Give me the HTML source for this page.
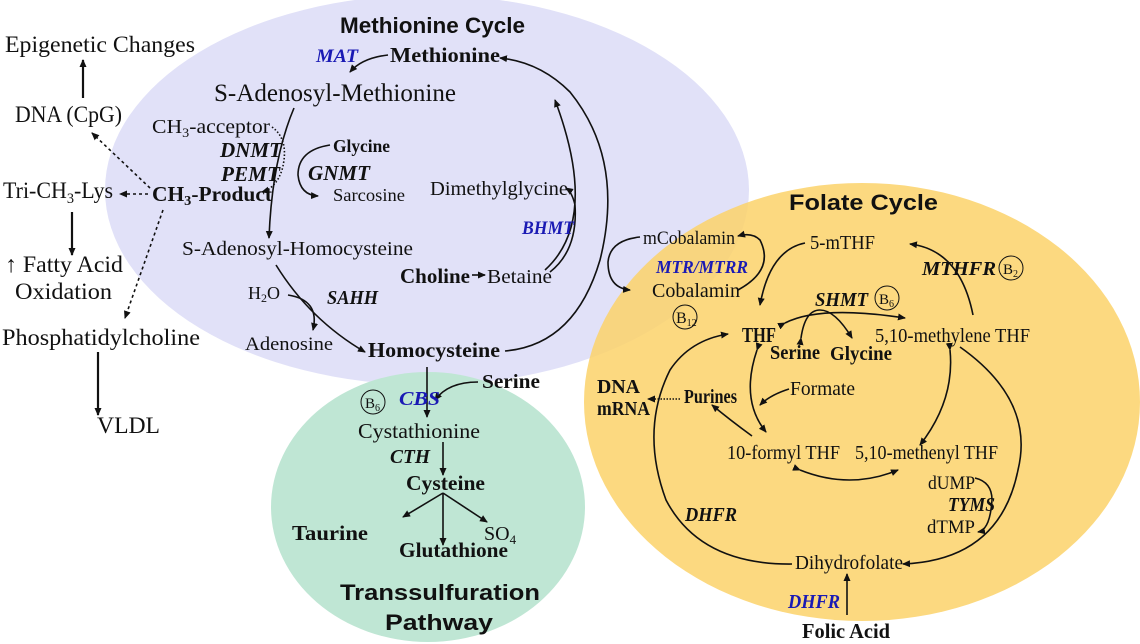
<!DOCTYPE html>
<html><head><meta charset="utf-8"><style>
html,body{margin:0;padding:0;background:#fff}
svg{display:block}
text{font-family:"Liberation Serif",serif;fill:#111}
.b{font-weight:bold}
.i{font-style:italic;font-weight:bold}
.bl{fill:#1a1ab4}
.h{font-family:"Liberation Sans",sans-serif;font-weight:bold;font-size:22px}
</style></head><body>
<svg width="1140" height="644" viewBox="0 0 1140 644" xmlns="http://www.w3.org/2000/svg">
<defs>
<marker id="a" markerWidth="8" markerHeight="8" refX="7" refY="4" orient="auto" markerUnits="userSpaceOnUse"><path d="M0,0.5 L8,4 L0,7.5 Z" fill="#111"/></marker>
</defs>
<ellipse cx="427" cy="190" rx="322" ry="195" fill="#e1e1f8"/>
<ellipse cx="428" cy="507" rx="157" ry="135" fill="#bfe6d4"/>
<ellipse cx="862" cy="402" rx="278" ry="219" fill="#fbd26a" fill-opacity="0.85"/>

<g fill="none" stroke="#111" stroke-width="1.6">
<path d="M83,98 V60" marker-end="url(#a)" stroke-width="2.2"/>
<path d="M72,212 V255" marker-end="url(#a)" stroke-width="2.2"/>
<path d="M98,352 V415" marker-end="url(#a)" stroke-width="2.2"/>
<path d="M150,188 L92,133" stroke-dasharray="3,3" marker-end="url(#a)"/>
<path d="M148,194 H120" stroke-dasharray="3,3" marker-end="url(#a)"/>
<path d="M163,210 L125,318" stroke-dasharray="3,3" marker-end="url(#a)"/>
<path d="M388,55 Q362,58 350,72" marker-end="url(#a)"/>
<path d="M294,108 Q272,160 269,238" marker-end="url(#a)"/>
<path d="M272,127 Q290,140 282,170 Q276,188 262,192" stroke-dasharray="1.5,2" marker-end="url(#a)"/>
<path d="M330,145 Q298,150 298,175 Q300,195 318,196" marker-end="url(#a)"/>
<path d="M276,265 Q310,320 365,352" marker-end="url(#a)"/>
<path d="M288,295 Q320,300 313,330" marker-end="url(#a)"/>
<path d="M472,275 H485" marker-end="url(#a)"/>
<path d="M505,351 Q575,345 600,260 Q625,160 570,92 Q540,62 500,58" marker-end="url(#a)"/>
<path d="M545,270 Q600,220 555,100" marker-end="url(#a)"/>
<path d="M550,272 Q578,250 575,205 Q572,192 566,188" marker-end="url(#a)"/>
<path d="M640,237 Q610,240 608,262 Q608,288 630,290" marker-end="url(#a)"/>
<path d="M427,367 V417" marker-end="url(#a)"/>
<path d="M478,382 Q448,382 435,400" marker-end="url(#a)"/>
<path d="M443,442 V475" marker-end="url(#a)"/>
<path d="M443,493 L403,517" marker-end="url(#a)"/>
<path d="M443,493 V545" marker-end="url(#a)"/>
<path d="M443,493 L487,522" marker-end="url(#a)"/>
<path d="M738,290 Q775,270 760,240 Q752,232 738,236" marker-end="url(#a)"/>
<path d="M805,243 Q770,250 760,305" marker-end="url(#a)"/>
<path d="M973,315 Q960,250 910,244" marker-end="url(#a)"/>
<path d="M785,323 Q820,305 905,318" marker-start="url(#a)" marker-end="url(#a)"/>
<path d="M801,338 Q805,310 820,310 Q835,310 852,338" marker-end="url(#a)" marker-start="url(#a)"/>
<path d="M757,350 Q740,400 766,432" marker-start="url(#a)" marker-end="url(#a)"/>
<path d="M789,389 Q770,395 760,405" marker-end="url(#a)"/>
<path d="M752,436 Q730,420 712,405" marker-end="url(#a)"/>
<path d="M680,399 H648" stroke-dasharray="1.5,1.5" marker-end="url(#a)"/>
<path d="M950,350 Q955,400 920,445" marker-start="url(#a)" marker-end="url(#a)"/>
<path d="M800,470 Q850,490 898,470" marker-start="url(#a)" marker-end="url(#a)"/>
<path d="M960,347 Q1035,400 1018,470 Q1000,560 903,564" marker-end="url(#a)"/>
<path d="M792,564 Q700,565 666,500 Q640,430 670,370 Q690,340 728,334" marker-end="url(#a)"/>
<path d="M975,478 Q992,482 992,500 Q990,530 978,532" marker-end="url(#a)"/>
<path d="M847,615 V574" marker-end="url(#a)"/>
</g>

<text class="h" x="340" y="33" textLength="185" lengthAdjust="spacingAndGlyphs">Methionine Cycle</text>
<text x="5" y="52" font-size="23" textLength="190" lengthAdjust="spacingAndGlyphs">Epigenetic Changes</text>
<text x="15" y="122" font-size="23" textLength="107" lengthAdjust="spacingAndGlyphs">DNA (CpG)</text>
<text x="3" y="198" font-size="23" textLength="110" lengthAdjust="spacingAndGlyphs">Tri-CH<tspan font-size="15" dy="5">3</tspan><tspan dy="-5">-Lys</tspan></text>
<text x="5" y="272" font-size="23" textLength="118" lengthAdjust="spacingAndGlyphs">↑ Fatty Acid</text>
<text x="15" y="299" font-size="23" textLength="97" lengthAdjust="spacingAndGlyphs">Oxidation</text>
<text x="2" y="345" font-size="23" textLength="198" lengthAdjust="spacingAndGlyphs">Phosphatidylcholine</text>
<text x="97" y="433" font-size="23" textLength="63" lengthAdjust="spacingAndGlyphs">VLDL</text>

<text class="i bl" x="316" y="62" font-size="19" textLength="42" lengthAdjust="spacingAndGlyphs">MAT</text>
<text class="b" x="390" y="62" font-size="21" textLength="110" lengthAdjust="spacingAndGlyphs">Methionine</text>
<text x="214" y="101" font-size="25" textLength="242" lengthAdjust="spacingAndGlyphs">S-Adenosyl-Methionine</text>
<text x="152" y="133" font-size="20" textLength="118" lengthAdjust="spacingAndGlyphs">CH<tspan font-size="13" dy="4">3</tspan><tspan dy="-4">-acceptor</tspan></text>
<text class="i" x="220" y="157" font-size="21" textLength="62" lengthAdjust="spacingAndGlyphs">DNMT</text>
<text class="i" x="221" y="181" font-size="21" textLength="59" lengthAdjust="spacingAndGlyphs">PEMT</text>
<text class="b" x="333" y="152" font-size="18" textLength="57" lengthAdjust="spacingAndGlyphs">Glycine</text>
<text class="i" x="308" y="180" font-size="21" textLength="62" lengthAdjust="spacingAndGlyphs">GNMT</text>
<text x="333" y="201" font-size="18" textLength="72" lengthAdjust="spacingAndGlyphs">Sarcosine</text>
<text class="b" x="152" y="201" font-size="21" textLength="120" lengthAdjust="spacingAndGlyphs">CH<tspan font-size="14" dy="4">3</tspan><tspan dy="-4">-Product</tspan></text>
<text x="182" y="255" font-size="20" textLength="231" lengthAdjust="spacingAndGlyphs">S-Adenosyl-Homocysteine</text>
<text x="248" y="299" font-size="18" textLength="32" lengthAdjust="spacingAndGlyphs">H<tspan font-size="12" dy="3">2</tspan><tspan dy="-3">O</tspan></text>
<text class="i" x="327" y="304" font-size="20" textLength="51" lengthAdjust="spacingAndGlyphs">SAHH</text>
<text x="245" y="350" font-size="19" textLength="88" lengthAdjust="spacingAndGlyphs">Adenosine</text>
<text class="b" x="368" y="357" font-size="21" textLength="132" lengthAdjust="spacingAndGlyphs">Homocysteine</text>
<text class="b" x="400" y="283" font-size="21" textLength="70" lengthAdjust="spacingAndGlyphs">Choline</text>
<text x="487" y="283" font-size="20" textLength="65" lengthAdjust="spacingAndGlyphs">Betaine</text>
<text x="430" y="195" font-size="20" textLength="138" lengthAdjust="spacingAndGlyphs">Dimethylglycine</text>
<text class="i bl" x="522" y="234" font-size="19" textLength="52" lengthAdjust="spacingAndGlyphs">BHMT</text>
<text x="643" y="244" font-size="19" textLength="92" lengthAdjust="spacingAndGlyphs">mCobalamin</text>
<text class="i bl" x="656" y="273" font-size="18" textLength="92" lengthAdjust="spacingAndGlyphs">MTR/MTRR</text>
<text x="652" y="297" font-size="20" textLength="88" lengthAdjust="spacingAndGlyphs">Cobalamin</text>
<circle cx="685" cy="317" r="12" fill="none" stroke="#111" stroke-width="1"/>
<text x="676" y="323" font-size="16" font-family="Liberation Sans">B<tspan font-size="10" dy="3">12</tspan></text>

<text class="h" x="789" y="210" textLength="149" lengthAdjust="spacingAndGlyphs">Folate Cycle</text>
<text x="810" y="249" font-size="20" textLength="65" lengthAdjust="spacingAndGlyphs">5-mTHF</text>
<text class="i" x="922" y="275" font-size="20" textLength="74" lengthAdjust="spacingAndGlyphs">MTHFR</text>
<circle cx="1011" cy="268" r="12" fill="none" stroke="#111" stroke-width="1"/>
<text x="1003" y="274" font-size="15" font-family="Liberation Sans">B<tspan font-size="10" dy="3">2</tspan></text>
<text class="i" x="815" y="306" font-size="20" textLength="53" lengthAdjust="spacingAndGlyphs">SHMT</text>
<circle cx="887" cy="298" r="12" fill="none" stroke="#111" stroke-width="1"/>
<text x="879" y="304" font-size="15" font-family="Liberation Sans">B<tspan font-size="10" dy="3">6</tspan></text>
<text class="b" x="742" y="342" font-size="21" textLength="34" lengthAdjust="spacingAndGlyphs">THF</text>
<text class="b" x="770" y="359" font-size="20" textLength="50" lengthAdjust="spacingAndGlyphs">Serine</text>
<text class="b" x="830" y="360" font-size="20" textLength="62" lengthAdjust="spacingAndGlyphs">Glycine</text>
<text x="875" y="342" font-size="20" textLength="155" lengthAdjust="spacingAndGlyphs">5,10-methylene THF</text>
<text class="b" x="597" y="393" font-size="20" textLength="43" lengthAdjust="spacingAndGlyphs">DNA</text>
<text class="b" x="597" y="415" font-size="20" textLength="53" lengthAdjust="spacingAndGlyphs">mRNA</text>
<text class="b" x="684" y="403" font-size="20" textLength="53" lengthAdjust="spacingAndGlyphs">Purines</text>
<text x="790" y="395" font-size="20" textLength="65" lengthAdjust="spacingAndGlyphs">Formate</text>
<text x="727" y="459" font-size="20" textLength="113" lengthAdjust="spacingAndGlyphs">10-formyl THF</text>
<text x="855" y="459" font-size="20" textLength="143" lengthAdjust="spacingAndGlyphs">5,10-methenyl THF</text>
<text x="928" y="489" font-size="19" textLength="47" lengthAdjust="spacingAndGlyphs">dUMP</text>
<text class="i" x="948" y="511" font-size="20" textLength="47" lengthAdjust="spacingAndGlyphs">TYMS</text>
<text x="927" y="533" font-size="19" textLength="48" lengthAdjust="spacingAndGlyphs">dTMP</text>
<text class="i" x="685" y="521" font-size="20" textLength="52" lengthAdjust="spacingAndGlyphs">DHFR</text>
<text x="795" y="569" font-size="20" textLength="108" lengthAdjust="spacingAndGlyphs">Dihydrofolate</text>
<text class="i bl" x="788" y="608" font-size="20" textLength="52" lengthAdjust="spacingAndGlyphs">DHFR</text>
<text class="b" x="802" y="638" font-size="21" textLength="88" lengthAdjust="spacingAndGlyphs">Folic Acid</text>

<text class="b" x="482" y="388" font-size="20" textLength="58" lengthAdjust="spacingAndGlyphs">Serine</text>
<circle cx="373" cy="402" r="12" fill="none" stroke="#111" stroke-width="1"/>
<text x="365" y="408" font-size="15" font-family="Liberation Sans">B<tspan font-size="10" dy="3">6</tspan></text>
<text class="i bl" x="399" y="405" font-size="20" textLength="41" lengthAdjust="spacingAndGlyphs">CBS</text>
<text x="358" y="438" font-size="21" textLength="122" lengthAdjust="spacingAndGlyphs">Cystathionine</text>
<text class="i" x="390" y="463" font-size="20" textLength="40" lengthAdjust="spacingAndGlyphs">CTH</text>
<text class="b" x="406" y="490" font-size="21" textLength="79" lengthAdjust="spacingAndGlyphs">Cysteine</text>
<text class="b" x="292" y="540" font-size="21" textLength="76" lengthAdjust="spacingAndGlyphs">Taurine</text>
<text class="b" x="399" y="557" font-size="21" textLength="109" lengthAdjust="spacingAndGlyphs">Glutathione</text>
<text x="484" y="540" font-size="20">SO<tspan font-size="13" dy="4">4</tspan></text>
<text class="h" x="340" y="600" font-size="24" textLength="200" lengthAdjust="spacingAndGlyphs">Transsulfuration</text>
<text class="h" x="385" y="630" font-size="24" textLength="108" lengthAdjust="spacingAndGlyphs">Pathway</text>
</svg>
</body></html>
